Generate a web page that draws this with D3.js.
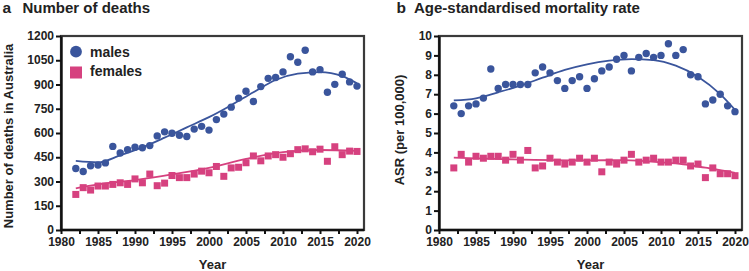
<!DOCTYPE html>
<html><head><meta charset="utf-8">
<script src="https://cdn.jsdelivr.net/npm/d3@7"></script>
<style>
body{margin:0;background:#fff;}
svg{display:block;font-family:"Liberation Sans",Arial,Helvetica,sans-serif;}
text{font-weight:bold;fill:#222;}
</style></head><body>
<svg id="c" width="749" height="271"></svg>
<script>
// ---- data ----
const years = d3.range(1982, 2021);
const deathsMales = [380,362,397,402,415,517,476,497,512,509,522,582,607,598,586,578,624,641,618,683,717,760,816,858,795,887,938,943,978,1072,1038,1112,978,992,852,901,963,916,890];
const deathsFemales = [220,262,247,272,272,282,292,282,316,292,346,274,290,337,324,324,346,364,354,393,332,384,388,416,458,428,458,466,450,472,497,502,484,500,425,515,466,488,486];
const asrMales = [6.4,6.0,6.4,6.5,6.8,8.3,7.3,7.5,7.5,7.5,7.5,8.1,8.4,8.1,7.7,7.3,7.7,7.9,7.3,7.8,8.2,8.4,8.8,9.0,8.2,8.9,9.1,8.9,9.0,9.6,9.0,9.3,8.0,7.9,6.5,6.7,7.0,6.4,6.1];
const asrFemales = [3.2,3.9,3.5,3.8,3.7,3.8,3.8,3.6,3.9,3.6,4.1,3.2,3.3,3.7,3.5,3.4,3.5,3.7,3.5,3.7,3.0,3.5,3.4,3.6,3.9,3.5,3.6,3.7,3.5,3.5,3.6,3.6,3.3,3.4,2.7,3.2,2.9,2.9,2.8];
// fitted trend curves
const fitYears = [1982,1985,1988,1991,1994,1997,2000,2003,2006,2009,2012,2015,2018,2020];
const fitDeathsMales = [427,418,462,511,571,635,698,772,852,928,967,977,952,908];
const fitDeathsFemalesYears = [1982,1985,1990,1995,2000,2005,2010,2015,2020];
const fitDeathsFemales = [258,282,309,344,385,440,482,495,489];
const fitAsrMales = [6.68,6.79,7.10,7.44,7.85,8.25,8.54,8.73,8.81,8.76,8.47,7.90,7.00,6.19];
const fitAsrFemalesYears = [1982,1990,2000,2005,2010,2013,2016,2018,2020];
const fitAsrFemales = [3.73,3.64,3.59,3.60,3.49,3.39,3.21,3.09,2.95];
const deathTicks = [0,150,300,450,600,750,900,1050,1200];
const asrTicks = [0,1,2,3,4,5,6,7,8,9,10];
const yearTicks = d3.range(1980, 2021, 2.5);
const seriesNames = ["males","females"];

const BLUE = "#3a559c", PINK = "#d6417f";
const svg = d3.select("#c");

function panel(opt){
  const x = d3.scaleLinear([1980,2020],[opt.x0, opt.x0+296]);
  const y = d3.scaleLinear([0, opt.ymax],[230,36]);
  const g = svg.append("g");
  // frame (top/right)
  g.append("rect").attr("x",opt.x0).attr("y",36).attr("width",opt.frameR-opt.x0).attr("height",194)
    .attr("fill","none").attr("stroke","#3a3a3a").attr("stroke-width",2.2);
  // axes
  const xa = g.append("g").attr("transform","translate(0,230)")
    .call(d3.axisBottom(x).tickValues(yearTicks).tickSize(4).tickSizeOuter(0).tickPadding(3)
      .tickFormat(d=> d%5===0 ? String(d) : ""));
  xa.select(".domain").remove();
  g.append("line").attr("x1",opt.x0).attr("x2",opt.frameR).attr("y1",230).attr("y2",230)
    .attr("stroke","#111").attr("stroke-width",2.4);
  xa.selectAll(".tick line").attr("stroke","#111").attr("stroke-width",2);
  xa.selectAll("text").style("font-size","12px").attr("fill","#222").attr("dy","0.73em");
  const ya = g.append("g").attr("transform",`translate(${opt.x0},0)`)
    .call(d3.axisLeft(y).tickValues(opt.ticks).tickSize(5).tickSizeOuter(0).tickPadding(2)
      .tickFormat(d=>String(d)));
  ya.select(".domain").attr("stroke","#111").attr("stroke-width",2.4);
  ya.selectAll(".tick line").attr("stroke","#111").attr("stroke-width",2);
  ya.selectAll("text").style("font-size","12px").attr("fill","#222").attr("dy","0.3em");
  // lines
  const line = d3.line().x(d=>x(d[0])).y(d=>y(d[1])).curve(d3.curveMonotoneX);
  g.append("path").datum(d3.zip(opt.fmY, opt.fm)).attr("d",line)
    .attr("fill","none").attr("stroke",BLUE).attr("stroke-width",1.8);
  g.append("path").datum(d3.zip(opt.ffY, opt.ff)).attr("d",line)
    .attr("fill","none").attr("stroke",PINK).attr("stroke-width",1.8);
  // points
  g.append("g").selectAll("circle").data(d3.zip(years,opt.m)).join("circle")
    .attr("cx",d=>x(d[0])).attr("cy",d=>y(d[1])).attr("r",3.7).attr("fill",BLUE);
  const s=7;
  g.append("g").selectAll("rect").data(d3.zip(years,opt.f)).join("rect")
    .attr("x",d=>x(d[0])-s/2).attr("y",d=>y(d[1])-s/2).attr("width",s).attr("height",s).attr("fill",PINK);
  // titles & labels
  svg.append("text").attr("x",opt.lx).attr("y",13).style("font-size","15.5px").text(opt.letter);
  svg.append("text").attr("x",opt.tx).attr("y",13).style("font-size","15px").text(opt.title);
  svg.append("text").attr("x",(opt.x0+opt.frameR)/2).attr("y",269).attr("text-anchor","middle")
    .style("font-size","13px").text("Year");
  svg.append("text").attr("transform",`translate(${opt.ylx},${opt.yly}) rotate(-90)`)
    .attr("text-anchor","middle").style("font-size","13px").text(opt.ylabel);
}

panel({x0:61, frameR:364, ymax:1200, ticks:deathTicks, m:deathsMales, f:deathsFemales,
  fmY:fitYears, fm:fitDeathsMales, ffY:fitDeathsFemalesYears, ff:fitDeathsFemales,
  letter:"a", lx:2.5, tx:22.5, title:"Number of deaths", ylabel:"Number of deaths in Australia", ylx:12.5, yly:136});
panel({x0:439, frameR:742, ymax:10, ticks:asrTicks, m:asrMales, f:asrFemales,
  fmY:fitYears, fm:fitAsrMales, ffY:fitAsrFemalesYears, ff:fitAsrFemales,
  letter:"b", lx:396.5, tx:414, title:"Age-standardised mortality rate", ylabel:"ASR (per 100,000)", ylx:403.5, yly:130});

// legend
const lg = svg.append("g");
lg.append("circle").attr("cx",76).attr("cy",51.7).attr("r",5.9).attr("fill",BLUE);
lg.append("rect").attr("x",70).attr("y",66.5).attr("width",12).attr("height",12).attr("fill",PINK);
lg.selectAll("text.lg").data(seriesNames).join("text").attr("class","lg")
  .attr("x",90).attr("y",(d,i)=> i===0 ? 56.5 : 75.8).style("font-size","14px").text(d=>d);
</script>
</body></html>
